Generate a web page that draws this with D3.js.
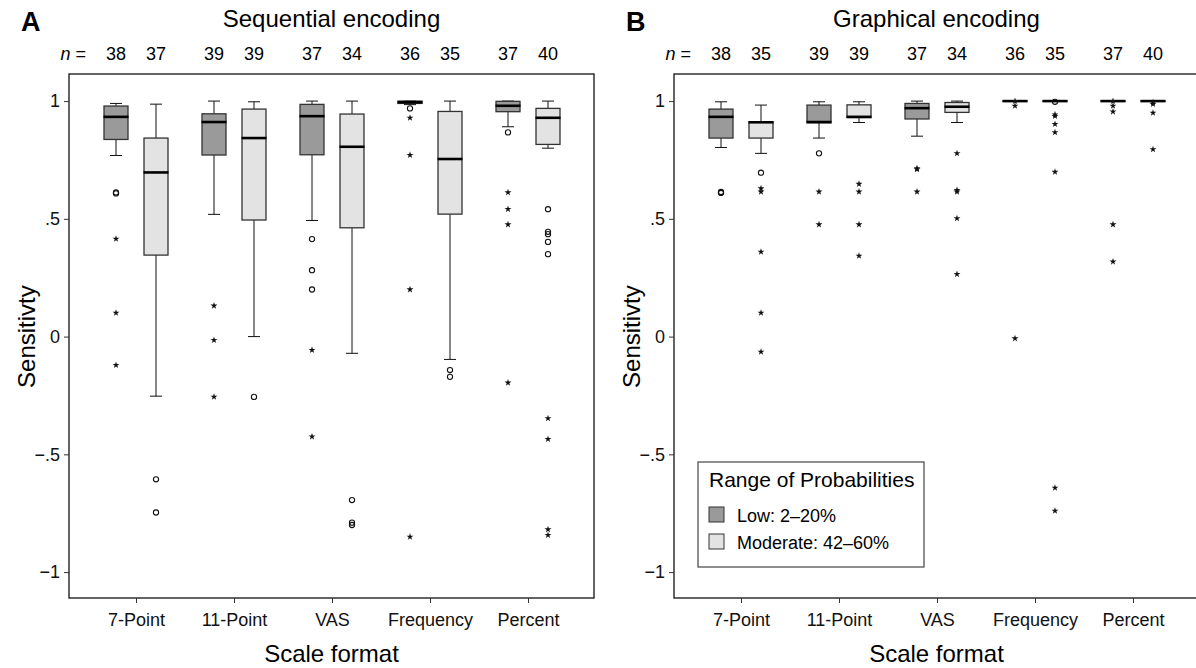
<!DOCTYPE html>
<html>
<head>
<meta charset="utf-8">
<script src="https://cdn.jsdelivr.net/npm/d3@7"></script>
<style>
  html, body { margin: 0; padding: 0; background: #fff; }
  svg { display: block; font-family: "Liberation Sans", Arial, Helvetica, sans-serif; }
</style>
</head>
<body>
<svg id="chart" width="1196" height="668"></svg>
<script>
// Scale formats on the x axis and the two probability ranges per format
const scaleFormats = ["7-Point", "11-Point", "VAS", "Frequency", "Percent"];
const probRanges = ["Low: 2–20%", "Moderate: 42–60%"];
const yTicks = [-1, -0.5, 0, 0.5, 1];
const yTickLabels = ["−1", "−.5", "0", ".5", "1"];

// Sample sizes, one per box (format × range)
const seqN = [38, 37, 39, 39, 37, 34, 36, 35, 37, 40];
const graN = [38, 35, 39, 39, 37, 34, 36, 35, 37, 40];

// Box statistics: [lower whisker, Q1, median, Q3, upper whisker]
const seqStats = [
  [0.769, 0.837, 0.933, 0.979, 0.990],
  [-0.253, 0.346, 0.697, 0.843, 0.987],
  [0.519, 0.771, 0.911, 0.946, 1.000],
  [0.000, 0.495, 0.843, 0.966, 0.997],
  [0.493, 0.772, 0.936, 0.986, 1.000],
  [-0.071, 0.462, 0.806, 0.945, 1.000],
  [0.985, 0.990, 0.995, 1.000, 1.000],
  [-0.097, 0.520, 0.754, 0.956, 1.000],
  [0.891, 0.955, 0.980, 0.999, 1.000],
  [0.800, 0.816, 0.929, 0.969, 1.000]
];
const graStats = [
  [0.803, 0.843, 0.933, 0.966, 0.997],
  [0.778, 0.843, 0.910, 0.912, 0.983],
  [0.843, 0.908, 0.911, 0.983, 0.997],
  [0.909, 0.930, 0.933, 0.984, 0.997],
  [0.851, 0.924, 0.970, 0.990, 1.000],
  [0.909, 0.952, 0.976, 0.994, 1.000],
  [1.000, 1.000, 1.000, 1.000, 1.000],
  [1.000, 1.000, 1.000, 1.000, 1.000],
  [1.000, 1.000, 1.000, 1.000, 1.000],
  [1.000, 1.000, 1.000, 1.000, 1.000]
];

// Outliers (circles) and extreme values (stars), per box
const seqCircles = [
  [0.612, 0.608], [-0.606, -0.747], [], [-0.256], [0.414, 0.282, 0.200],
  [-0.694, -0.790, -0.800], [0.969], [-0.142, -0.171], [0.867],
  [0.541, 0.445, 0.435, 0.402, 0.350]
];
const seqStars = [
  [0.415, 0.101, -0.121], [], [0.131, -0.015, -0.256], [], [-0.057, -0.425],
  [], [0.929, 0.771, 0.200, -0.850], [], [0.612, 0.541, 0.476, -0.196],
  [-0.347, -0.435, -0.819, -0.843]
];
const graCircles = [
  [0.614, 0.610], [0.696], [0.778], [], [], [], [], [0.997], [], []
];
const graStars = [
  [], [0.629, 0.615, 0.360, 0.101, -0.065], [0.615, 0.476],
  [0.648, 0.615, 0.476, 0.343], [0.714, 0.710, 0.615],
  [0.778, 0.622, 0.615, 0.502, 0.265], [1.000, 0.980, -0.008],
  [0.943, 0.936, 0.902, 0.867, 0.699, -0.642, -0.740],
  [1.000, 0.980, 0.955, 0.476, 0.318], [0.994, 0.987, 0.950, 0.795]
];

const fills = ["#9a9a9a", "#e3e3e3"];
const svg = d3.select("#chart");

const plotW = 525, plotH = 524, plotTop = 74;
const y = d3.scaleLinear().domain([-1.11, 1.115]).range([plotTop + plotH, plotTop]);
const x = d3.scalePoint().domain(scaleFormats).range([67, 459]);
const xSub = d3.scaleBand().domain(probRanges).range([-40, 40]);
const boxW = 24, capW = 12;
const star = d3.symbol().type(d3.symbolStar).size(15);

function drawPanel(left, letter, title, stats, circles, stars, ns) {
  const g = svg.append("g").attr("transform", `translate(${left},0)`);

  // Panel letter and title
  svg.append("text").attr("x", left - 48).attr("y", 31)
    .attr("font-size", 27).attr("font-weight", "bold").text(letter);
  g.append("text").attr("x", plotW / 2).attr("y", 27).attr("text-anchor", "middle")
    .attr("font-size", 24).text(title);

  // Sample size row
  const nRow = g.append("text").attr("x", 17).attr("y", 60).attr("text-anchor", "end")
    .attr("font-size", 18);
  nRow.append("tspan").attr("font-style", "italic").text("n");
  nRow.append("tspan").text(" =");

  const boxes = [];
  scaleFormats.forEach((f, i) => probRanges.forEach((r, j) => {
    const k = i * 2 + j;
    boxes.push({ cx: x(f) + xSub(r) + xSub.bandwidth() / 2, s: stats[k], c: circles[k], st: stars[k], n: ns[k], fill: fills[j] });
  }));

  g.selectAll("text.n").data(boxes).join("text").attr("class", "n")
    .attr("x", d => d.cx).attr("y", 60).attr("text-anchor", "middle")
    .attr("font-size", 18).text(d => d.n);

  // Frame
  g.append("rect").attr("x", 0).attr("y", plotTop).attr("width", plotW).attr("height", plotH)
    .attr("fill", "none").attr("stroke", "#111").attr("stroke-width", 1.3);

  // Y axis
  const yAxis = g.append("g").call(d3.axisLeft(y).tickValues(yTicks)
    .tickFormat((d, i) => yTickLabels[i]).tickSize(5).tickPadding(4));
  yAxis.select(".domain").remove();
  yAxis.selectAll("text").attr("font-size", 18).attr("font-family", null).attr("fill", "#111");
  yAxis.selectAll("line").attr("stroke", "#333");

  // X axis
  const xAxis = g.append("g").attr("transform", `translate(0,${plotTop + plotH})`)
    .call(d3.axisBottom(x).tickSize(5).tickPadding(10));
  xAxis.select(".domain").remove();
  xAxis.selectAll("text").attr("font-size", 18).attr("font-family", null).attr("fill", "#111");
  xAxis.selectAll("line").attr("stroke", "#333");

  // Axis titles
  g.append("text").attr("x", plotW / 2).attr("y", 662).attr("text-anchor", "middle")
    .attr("font-size", 24).text("Scale format");
  g.append("text").attr("transform", `translate(-34,${y(0)}) rotate(-90)`)
    .attr("text-anchor", "middle").attr("font-size", 24).text("Sensitivty");

  // Boxplots
  const bg = g.selectAll("g.box").data(boxes).join("g").attr("class", "box");
  bg.append("line").attr("x1", d => d.cx).attr("x2", d => d.cx)
    .attr("y1", d => y(d.s[4])).attr("y2", d => y(d.s[3])).attr("stroke", "#111");
  bg.append("line").attr("x1", d => d.cx).attr("x2", d => d.cx)
    .attr("y1", d => y(d.s[1])).attr("y2", d => y(d.s[0])).attr("stroke", "#111");
  bg.append("line").attr("x1", d => d.cx - capW / 2).attr("x2", d => d.cx + capW / 2)
    .attr("y1", d => y(d.s[4])).attr("y2", d => y(d.s[4])).attr("stroke", "#111");
  bg.append("line").attr("x1", d => d.cx - capW / 2).attr("x2", d => d.cx + capW / 2)
    .attr("y1", d => y(d.s[0])).attr("y2", d => y(d.s[0])).attr("stroke", "#111");
  bg.append("rect").attr("x", d => d.cx - boxW / 2).attr("width", boxW)
    .attr("y", d => y(d.s[3])).attr("height", d => Math.max(0.01, y(d.s[1]) - y(d.s[3])))
    .attr("fill", d => d.fill).attr("stroke", "#333").attr("stroke-width", 1.3);
  bg.append("line").attr("x1", d => d.cx - boxW / 2 - 0.5).attr("x2", d => d.cx + boxW / 2 + 0.5)
    .attr("y1", d => y(d.s[2])).attr("y2", d => y(d.s[2])).attr("stroke", "#000").attr("stroke-width", 2.6);

  // Outliers
  bg.selectAll("circle").data(d => d.c.map(v => ({ cx: d.cx, v }))).join("circle")
    .attr("cx", d => d.cx).attr("cy", d => y(d.v)).attr("r", 2.6)
    .attr("fill", "none").attr("stroke", "#111").attr("stroke-width", 1.1);
  bg.selectAll("path.star").data(d => d.st.map(v => ({ cx: d.cx, v }))).join("path")
    .attr("class", "star").attr("d", star)
    .attr("transform", d => `translate(${d.cx},${y(d.v)})`).attr("fill", "#111");

  return g;
}

drawPanel(69, "A", "Sequential encoding", seqStats, seqCircles, seqStars, seqN);
const gB = drawPanel(674, "B", "Graphical encoding", graStats, graCircles, graStars, graN);

// Legend
const lg = gB.append("g").attr("transform", "translate(24,462)");
lg.append("rect").attr("width", 226).attr("height", 105).attr("fill", "#fff")
  .attr("stroke", "#444").attr("stroke-width", 1.2);
lg.append("text").attr("x", 11).attr("y", 25).attr("font-size", 21).text("Range of Probabilities");
const items = lg.selectAll("g.item").data(probRanges).join("g").attr("class", "item")
  .attr("transform", (d, i) => `translate(11,${45 + i * 27})`);
items.append("rect").attr("width", 15).attr("height", 15)
  .attr("fill", (d, i) => fills[i]).attr("stroke", "#333").attr("stroke-width", 1);
items.append("text").attr("x", 28).attr("y", 15).attr("font-size", 18).text(d => d);
</script>
</body>
</html>
